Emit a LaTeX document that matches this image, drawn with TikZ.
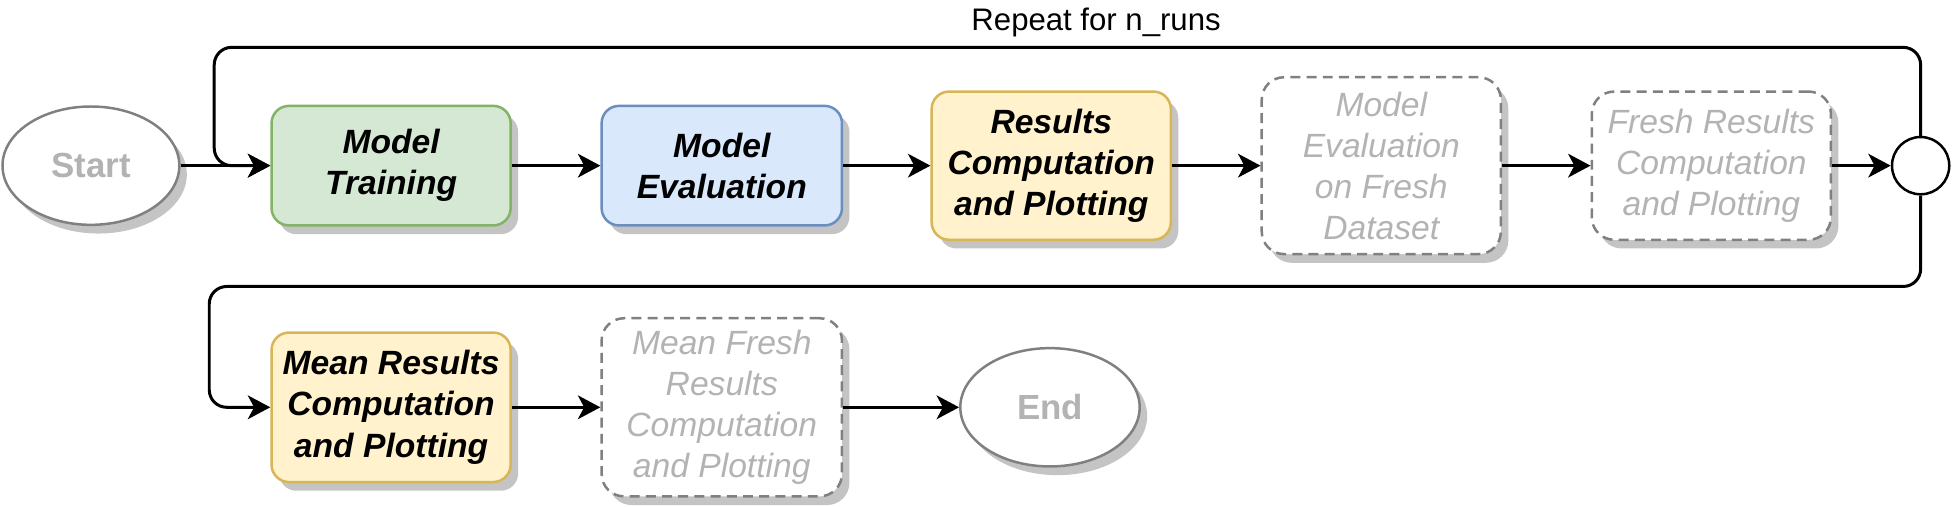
\documentclass[tikz,border=0pt]{standalone}
\usepackage{fontspec}
\setmainfont{Liberation Sans}
\usetikzlibrary{arrows.meta,shadows,shapes.geometric}
\definecolor{gfill}{HTML}{D5E8D4}
\definecolor{gline}{HTML}{82B366}
\definecolor{bfill}{HTML}{DAE8FC}
\definecolor{bline}{HTML}{6C8EBF}
\definecolor{yfill}{HTML}{FFF2CC}
\definecolor{yline}{HTML}{D6B656}
\definecolor{gtext}{HTML}{B3B3B3}
\definecolor{gstroke}{HTML}{808080}
\definecolor{shad}{HTML}{C4C4C4}
\begin{document}
\begin{tikzpicture}[x=0.5pt,y=-0.5pt,
  shad/.style={drop shadow={shadow xshift=3pt,shadow yshift=-3.5pt,fill=shad,opacity=1}},
  boxtxt/.style={align=center,font=\fontsize{13.5}{16.5}\selectfont\bfseries\itshape},
  procbox/.style={rectangle,rounded corners=7pt,line width=1pt,shad,boxtxt,inner sep=0pt},
  greenbox/.style={procbox,fill=gfill,draw=gline},
  bluebox/.style={procbox,fill=bfill,draw=bline},
  yellowbox/.style={procbox,fill=yfill,draw=yline},
  freshbox/.style={rectangle,rounded corners=9pt,line width=1pt,dashed,dash pattern=on 4pt off 2.5pt,draw=gstroke,fill=white,shad,inner sep=0pt,align=center,text=gtext,font=\fontsize{13.5}{16.5}\selectfont\itshape},
  term/.style={ellipse,draw=gstroke,line width=1pt,fill=white,shad,text=gtext,font=\fontsize{14}{16.5}\selectfont\bfseries,inner sep=0pt},
  flow/.style={line width=1.2pt,-{Stealth[length=9pt,width=9.5pt,inset=2.5pt]}},
  loopline/.style={flow,rounded corners=7pt}
]
\useasboundingbox (0,0) rectangle (1568,407);

\node[term,minimum width=71pt,minimum height=47.5pt] (start) at (73,133) {Start};
\node[greenbox,minimum width=96pt,minimum height=48pt] (train) at (314,133) {Model\\Training};
\node[bluebox,minimum width=96.5pt,minimum height=48pt] (eval) at (579.5,133) {Model\\Evaluation};
\node[yellowbox,minimum width=96pt,minimum height=59.5pt] (res) at (844,133) {Results\\Computation\\and Plotting};
\node[freshbox,minimum width=96pt,minimum height=71pt] (feval) at (1109,133) {Model\\Evaluation\\on Fresh\\Dataset};
\node[freshbox,minimum width=96pt,minimum height=59.5pt] (fres) at (1374,133) {Fresh Results\\Computation\\and Plotting};
\node[circle,draw=black,line width=1pt,fill=white,minimum size=23pt,inner sep=0pt] (join) at (1542,133) {};

\node[yellowbox,minimum width=96pt,minimum height=60pt] (mres) at (314,327) {Mean Results\\Computation\\and Plotting};
\node[freshbox,minimum width=96.5pt,minimum height=71.5pt] (mfres) at (579.5,327) {Mean Fresh\\Results\\Computation\\and Plotting};
\node[term,minimum width=72pt,minimum height=47.5pt] (end) at (843,327) {End};

\node[font=\fontsize{12.5}{15}\selectfont] (rep) at (880,18) {Repeat for n\_runs};

\coordinate (lt) at (1542,38);
\coordinate (ll) at (172,38);
\coordinate (lb) at (172,133);
\coordinate (et) at (1542,230);
\coordinate (el) at (168,230);
\coordinate (eb) at (168,327);

\draw[flow] (start) -- (train);
\draw[flow] (train) -- (eval);
\draw[flow] (eval) -- (res);
\draw[flow] (res) -- (feval);
\draw[flow] (feval) -- (fres);
\draw[flow] (fres) -- (join);
\draw[loopline] (join.north) -- (lt) -- (ll) -- (lb) -- (train.west);
\draw[loopline] (join.south) -- (et) -- (el) -- (eb) -- (mres.west);
\draw[flow] (mres) -- (mfres);
\draw[flow] (mfres) -- (end);
\end{tikzpicture}
\end{document}
